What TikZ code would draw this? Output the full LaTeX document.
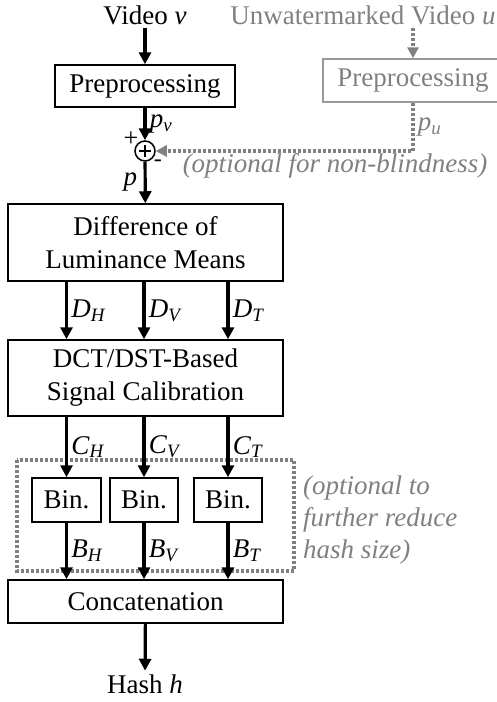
\documentclass[tikz,border=0pt]{standalone}
\usepackage{fontspec}
\setmainfont{Liberation Serif}
\usetikzlibrary{arrows.meta}

\newcommand{\sig}[2]{\textit{#1}\textsubscript{\textit{#2}}}

\begin{document}
\begin{tikzpicture}[x=1pt, y=-1pt,
  every node/.style={font=\fontsize{27}{33}\selectfont},
  block/.style={draw, line width=1.5pt, align=center, inner sep=0pt},
  bigblock/.style={block, minimum width=275pt},
  flow/.style={line width=3.2pt, -{Triangle[length=12pt,width=12pt]}},
  optflow/.style={gray, line width=3.2pt, dash pattern=on 3pt off 2pt, -{Triangle[length=11pt,width=11pt]}},
  note/.style={gray, font=\fontsize{27}{32}\selectfont\itshape}]
\useasboundingbox (0,0) rectangle (497,702);

% inputs
\node[anchor=base] (video) at (145, 24) {Video \textit{v}};
\node[anchor=base, gray] (uvideo) at (363, 24) {Unwatermarked Video \textit{u}};

\node[block, minimum width=180pt, minimum height=42pt] (vproc) at (145, 86) {Preprocessing};
\node[block, draw=gray!80, text=gray, minimum width=180pt, minimum height=43pt] (uproc) at (413, 80.5) {Preprocessing};

\node[draw, circle, line width=1.5pt, minimum size=20pt, inner sep=0pt] (sum) at (145, 151) {};
\draw[line width=1.2pt] ([yshift=6pt]sum.center) -- ([yshift=-6pt]sum.center)
  ([xshift=-6pt]sum.center) -- ([xshift=6pt]sum.center);
\node[anchor=south east, inner sep=0pt, xshift=1pt, yshift=-3pt, font=\fontsize{26}{26}\selectfont] (plus) at (sum.north west) {+};
\node[anchor=north west, inner sep=1pt, font=\fontsize{24}{24}\selectfont] (minus) at (sum.south east) {-};

% main chain
\node[bigblock, minimum height=77pt] (diff) at (145.5, 242.5) {Difference of\\Luminance Means};
\node[bigblock, minimum height=76pt] (dct) at (145.5, 378) {DCT/DST-Based\\Signal Calibration};

\node[block, minimum width=69pt, minimum height=44pt] (binh) at (66.5, 500) {Bin.};
\node[block, minimum width=68pt, minimum height=44pt] (binv) at (144, 500) {Bin.};
\node[block, minimum width=68pt, minimum height=44pt] (bint) at (228, 500) {Bin.};

\node[bigblock, minimum height=43pt] (concat) at (145.5, 601.5) {Concatenation};
\node[anchor=base] (hash) at (145, 693) {Hash \textit{h}};

% optional parts
\draw[gray, line width=3.2pt, dash pattern=on 3pt off 2pt] (17, 460) rectangle (294, 571);
\node[note, anchor=base] (nonblind) at (335, 172) {(optional for non-blindness)};
\node[note, anchor=west, align=left, inner sep=0pt] (reduce) at (303, 520) {(optional to\\further reduce\\hash size)};

% connectors
\draw[flow] (video) -- (vproc);
\draw[optflow] (uvideo.south -| uproc) -- (uproc);
\draw[flow] (vproc) -- (sum) node[midway, right] {\sig{p}{v}};
\draw[optflow] (uproc.south) |- (sum.east) node[pos=0.25, right, text=gray] {\sig{p}{u}};
\draw[flow] (sum) -- (diff) node[midway, left, xshift=-3pt] {\textit{p}};

\draw[flow] (diff.south -| binh) -- (dct.north -| binh) node[midway, right] {\sig{D}{H}};
\draw[flow] (diff.south -| binv) -- (dct.north -| binv) node[midway, right] {\sig{D}{V}};
\draw[flow] (diff.south -| bint) -- (dct.north -| bint) node[midway, right] {\sig{D}{T}};

\draw[flow] (dct.south -| binh) -- (binh) node[midway, right] {\sig{C}{H}};
\draw[flow] (dct.south -| binv) -- (binv) node[midway, right] {\sig{C}{V}};
\draw[flow] (dct.south -| bint) -- (bint) node[midway, right] {\sig{C}{T}};

\draw[flow] (binh) -- (concat.north -| binh) node[midway, right] {\sig{B}{H}};
\draw[flow] (binv) -- (concat.north -| binv) node[midway, right] {\sig{B}{V}};
\draw[flow] (bint) -- (concat.north -| bint) node[midway, right] {\sig{B}{T}};

\draw[flow] (concat) -- (hash);
\end{tikzpicture}
\end{document}
